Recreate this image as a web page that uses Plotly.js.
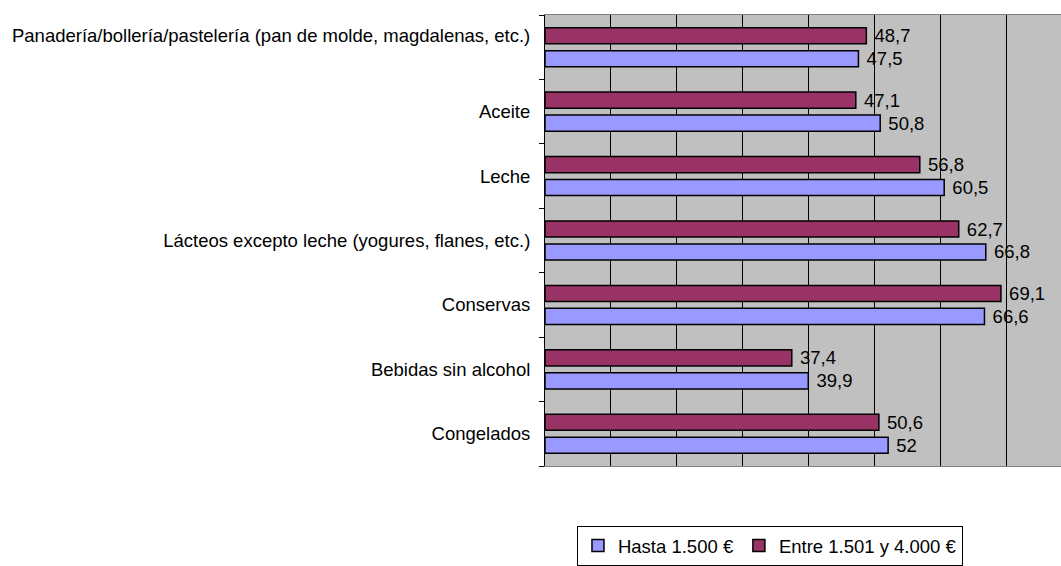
<!DOCTYPE html>
<html>
<head>
<meta charset="utf-8">
<script src="https://cdn.plot.ly/plotly-3.0.1.min.js"></script>
<style>html,body{margin:0;padding:0;background:#fff;}#chart{width:1061px;height:566px;}</style>
</head>
<body>
<div id="chart"></div>
<script>
// Categories listed bottom-to-top (as Plotly draws a category axis)
var categories = [
  "Congelados",
  "Bebidas sin alcohol",
  "Conservas",
  "Lácteos excepto leche (yogures, flanes, etc.)",
  "Leche",
  "Aceite",
  "Panadería/bollería/pastelería (pan de molde, magdalenas, etc.)"
];
var hasta = [52, 39.9, 66.6, 66.8, 60.5, 50.8, 47.5];
var entre = [50.6, 37.4, 69.1, 62.7, 56.8, 47.1, 48.7];
var seriesNames = ["Hasta 1.500 €", "Entre 1.501 y 4.000 €"];

function fmt(v){ return "\u00a0" + String(v).replace('.', ','); }
var tickText = categories.map(function(c, i){
  return i === categories.length - 1 ? c + "<br> " : c;
});

var font = "Liberation Sans, Arial, sans-serif";
var fs = 18.5;
var traces = [
  {type:'bar', orientation:'h', name:seriesNames[0], y:categories, x:hasta,
   text:hasta.map(fmt), textposition:'outside', cliponaxis:false, constraintext:'none',
   textfont:{family:font, size:fs, color:'#000'},
   marker:{color:'#9999FF', line:{color:'#000', width:1.5}}, hoverinfo:'x+y'},
  {type:'bar', orientation:'h', name:seriesNames[1], y:categories, x:entre,
   text:entre.map(fmt), textposition:'outside', cliponaxis:false, constraintext:'none',
   textfont:{family:font, size:fs, color:'#000'},
   marker:{color:'#993366', line:{color:'#000', width:1.5}}, hoverinfo:'x+y'}
];

var layout = {
  width:1061, height:566,
  margin:{l:545, r:0, t:15, b:90, pad:0},
  paper_bgcolor:'#fff', plot_bgcolor:'#C0C0C0',
  font:{family:font, size:fs, color:'#000'},
  barmode:'group', bargap:0.288, bargroupgap:0.298,
  showlegend:true,
  legend:{orientation:'h', x:0.436, xanchor:'center', y:-0.134, yanchor:'top',
          bordercolor:'#000', borderwidth:1, bgcolor:'#fff',
          font:{family:font, size:fs, color:'#000'}, traceorder:'normal',
          itemwidth:30, tracegroupgap:0},
  xaxis:{range:[0, 78.2], dtick:10, showgrid:true, gridcolor:'#000', gridwidth:1,
         showticklabels:false, ticks:'', zeroline:false, showline:true, linecolor:'#808080',
         mirror:true, fixedrange:true},
  yaxis:{type:'category', tickmode:'array', tickvals:categories, ticktext:tickText,
         tickson:'boundaries', ticks:'outside', ticklen:5, tickcolor:'#000',
         showline:true, linecolor:'#000', linewidth:1, showgrid:false,
         automargin:false, fixedrange:true, ticklabelstandoff:10,
         tickfont:{family:font, size:fs, color:'#000'}}
};

Plotly.newPlot('chart', traces, layout, {displayModeBar:false, staticPlot:true});
</script>
</body>
</html>
